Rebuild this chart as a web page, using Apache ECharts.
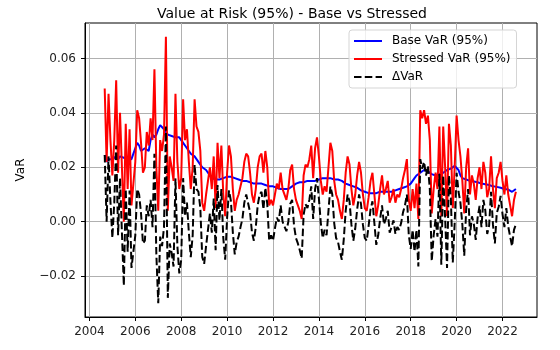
<!DOCTYPE html>
<html>
    <head>
        <meta charset="utf-8">
        <script src="https://cdn.jsdelivr.net/npm/echarts@6/dist/echarts.min.js"></script>
        <style>
            html, body { margin: 0; padding: 0; background: #fff; }
            #main { width: 560px; height: 350px; }
        </style>
    </head>
    <body>
        <div id="main"></div>
        <script>
            // monthly observations, first one is Sep 2004
            var startYear = 2004;
            var startMonth = 9;

            var baseVar = [
                0.0245, 0.022, 0.023, 0.0225, 0.023, 0.023, 0.024, 0.023, 0.024, 0.024, 0.0235, 0.024,
                0.023, 0.0225, 0.023, 0.025, 0.027, 0.029, 0.028, 0.026, 0.026, 0.027, 0.027, 0.026,
                0.030, 0.032, 0.031, 0.032, 0.034, 0.0355, 0.035, 0.034, 0.033, 0.032, 0.032, 0.0315,
                0.0315, 0.031, 0.031, 0.031, 0.030, 0.029, 0.028, 0.027, 0.026, 0.025, 0.025, 0.024,
                0.023, 0.022, 0.021, 0.020, 0.0195, 0.019, 0.018, 0.017, 0.016, 0.0155, 0.0155, 0.0155,
                0.0155, 0.016, 0.016, 0.016, 0.0165, 0.0165, 0.0165, 0.016, 0.016, 0.0155, 0.0155, 0.015,
                0.015, 0.015, 0.015, 0.0145, 0.0145, 0.014, 0.014, 0.014, 0.014, 0.014, 0.014, 0.0135,
                0.0135, 0.0135, 0.013, 0.013, 0.013, 0.0125, 0.0125, 0.012, 0.012, 0.012, 0.012, 0.0115,
                0.012, 0.0125, 0.013, 0.0135, 0.014, 0.014, 0.0145, 0.0145, 0.0145, 0.0145, 0.015, 0.015,
                0.015, 0.015, 0.015, 0.015, 0.0155, 0.0155, 0.016, 0.016, 0.016, 0.016, 0.016, 0.016,
                0.0155, 0.016, 0.0155, 0.015, 0.015, 0.0145, 0.014, 0.014, 0.0135, 0.013, 0.013, 0.0125,
                0.0125, 0.012, 0.0115, 0.011, 0.011, 0.011, 0.0105, 0.0105, 0.0105, 0.0105, 0.0105, 0.011,
                0.011, 0.011, 0.011, 0.011, 0.011, 0.011, 0.011, 0.0115, 0.0115, 0.012, 0.012, 0.0125,
                0.0125, 0.013, 0.013, 0.013, 0.014, 0.015, 0.016, 0.017, 0.0175, 0.018, 0.0185, 0.019,
                0.019, 0.0185, 0.018, 0.0175, 0.017, 0.017, 0.0175, 0.0175, 0.0178, 0.018, 0.0185, 0.019,
                0.019, 0.0195, 0.020, 0.0205, 0.021, 0.019, 0.017, 0.016, 0.0155, 0.0155, 0.015, 0.015,
                0.015, 0.0148, 0.0147, 0.0145, 0.0142, 0.014, 0.014, 0.0138, 0.0135, 0.0135, 0.013, 0.013,
                0.013, 0.0128, 0.0125, 0.0125, 0.0122, 0.012, 0.012, 0.0118, 0.0115, 0.011, 0.011, 0.012
            ];

            var stressedVar = [
                0.049, 0.022, 0.047, 0.030, 0.017, 0.030, 0.052, 0.018, 0.040, 0.020, 0.000, 0.036,
                0.012, 0.034, 0.006, 0.014, 0.022, 0.041, 0.038, 0.029, 0.018, 0.020, 0.033, 0.028,
                0.038, 0.030, 0.056, 0.020, 0.004, 0.030, 0.026, 0.032, 0.068, 0.004, 0.024, 0.020,
                0.015, 0.047, 0.022, 0.012, 0.016, 0.045, 0.030, 0.034, 0.022, 0.012, 0.020, 0.045,
                0.035, 0.033, 0.026, 0.007, 0.004, 0.010, 0.015, 0.020, 0.012, 0.024, 0.005, 0.029,
                0.016, 0.028, 0.010, 0.002, 0.018, 0.028, 0.024, 0.012, 0.004, 0.008, 0.010, 0.013,
                0.016, 0.022, 0.025, 0.024, 0.018, 0.010, 0.007, 0.012, 0.020, 0.024, 0.025, 0.018,
                0.026, 0.020, 0.006, 0.008, 0.006, 0.010, 0.014, 0.012, 0.018, 0.012, 0.012, 0.008,
                0.012, 0.019, 0.021, 0.012, 0.008, 0.006, 0.004, 0.001, 0.017, 0.021, 0.020, 0.023,
                0.028, 0.016, 0.027, 0.031, 0.024, 0.015, 0.010, 0.013, 0.011, 0.020, 0.029, 0.026,
                0.015, 0.010, 0.008, 0.004, 0.001, 0.008, 0.018, 0.024, 0.021, 0.012, 0.006, 0.010,
                0.017, 0.022, 0.018, 0.010, 0.005, 0.004, 0.009, 0.015, 0.018, 0.010, 0.002, 0.006,
                0.012, 0.017, 0.010, 0.012, 0.015, 0.007, 0.009, 0.012, 0.007, 0.010, 0.009, 0.012,
                0.016, 0.019, 0.023, 0.008, 0.004, 0.012, 0.005, 0.014, 0.001, 0.041, 0.038, 0.041,
                0.036, 0.039, 0.030, 0.003, 0.012, 0.018, 0.012, 0.035, 0.002, 0.035, 0.020, 0.002,
                0.036, 0.028, 0.005, 0.020, 0.039, 0.030, 0.024, 0.015, 0.003, 0.020, 0.027, 0.010,
                0.017, 0.014, 0.008, 0.016, 0.020, 0.012, 0.022, 0.018, 0.009, 0.012, 0.024, 0.012,
                0.005, 0.016, 0.018, 0.022, 0.015, 0.010, 0.017, 0.010, 0.006, 0.002, 0.008, 0.011
            ];

            var deltaVar = [
                0.0245, 0.000, 0.024, 0.0075, -0.006, 0.007, 0.028, -0.005, 0.016, -0.004, -0.0235, 0.012,
                -0.011, 0.0115, -0.017, -0.011, -0.005, 0.012, 0.010, 0.003, -0.008, -0.007, 0.006, 0.002,
                0.008, -0.002, 0.025, -0.012, -0.030, -0.0055, -0.009, -0.002, 0.035, -0.028, -0.008, -0.0115,
                -0.0165, 0.016, -0.009, -0.019, -0.014, 0.016, 0.002, 0.007, -0.004, -0.013, -0.005, 0.021,
                0.012, 0.011, 0.005, -0.013, -0.0155, -0.009, -0.003, 0.003, -0.004, 0.0085, -0.0105, 0.0135,
                0.0005, 0.012, -0.006, -0.014, 0.0015, 0.0115, 0.0075, -0.004, -0.012, -0.0075, -0.0055, -0.002,
                0.001, 0.007, 0.010, 0.0095, 0.0035, -0.004, -0.007, -0.002, 0.006, 0.010, 0.011, 0.0045,
                0.0125, 0.0065, -0.007, -0.005, -0.007, -0.0025, 0.0015, 0.000, 0.006, 0.000, 0.000, -0.0035,
                0.000, 0.0065, 0.008, -0.0015, -0.006, -0.008, -0.0105, -0.0135, 0.0025, 0.0065, 0.005, 0.008,
                0.013, 0.001, 0.012, 0.016, 0.0085, -0.0005, -0.006, -0.003, -0.005, 0.004, 0.013, 0.010,
                -0.0005, -0.006, -0.0075, -0.011, -0.014, -0.0065, 0.004, 0.010, 0.0075, -0.001, -0.007, -0.0025,
                0.0045, 0.010, 0.0065, -0.001, -0.006, -0.007, -0.0015, 0.0045, 0.0075, -0.0005, -0.0085, -0.005,
                0.001, 0.006, -0.001, 0.001, 0.004, -0.004, -0.002, 0.0005, -0.0045, -0.002, -0.003, -0.0005,
                0.0035, 0.006, 0.010, -0.005, -0.010, -0.003, -0.011, -0.003, -0.0165, 0.023, 0.0195, 0.022,
                0.017, 0.0205, 0.012, -0.0145, -0.005, 0.001, -0.0055, 0.0175, -0.0158, 0.017, 0.0015, -0.017,
                0.017, 0.0085, -0.015, -0.0005, 0.018, 0.011, 0.007, -0.001, -0.0125, 0.0045, 0.012, -0.005,
                0.002, -0.0008, -0.0067, 0.0015, 0.0058, -0.002, 0.008, 0.0042, -0.0045, -0.0015, 0.011, -0.001,
                -0.008, 0.0032, 0.0055, 0.0095, 0.0028, -0.002, 0.005, -0.0018, -0.0055, -0.009, -0.003, -0.001
            ];

            var yearTicks = [2004, 2006, 2008, 2010, 2012, 2014, 2016, 2018, 2020, 2022];
            var varTicks = [-0.02, 0, 0.02, 0.04, 0.06];

            // month position as a fractional year
            var dates = baseVar.map(function (v, i) {
                return startYear + (startMonth - 1 + i) / 12;
            });
            function pairs(values) {
                return values.map(function (v, i) {
                    return [dates[i], v];
                });
            }

            var font = 'DejaVu Sans';
            var chart = echarts.init(document.getElementById('main'), null, {renderer: 'canvas'});

            chart.setOption({
                animation: false,
                backgroundColor: '#fff',
                textStyle: {fontFamily: font},
                title: {
                    text: 'Value at Risk (95%) - Base vs Stressed',
                    left: 152,
                    top: 2,
                    textStyle: {fontFamily: font, fontSize: 14, fontWeight: 'normal', color: '#000'}
                },
                legend: {
                    orient: 'vertical',
                    left: 349,
                    top: 30,
                    padding: [5, 6, 5, 4],
                    itemWidth: 28,
                    itemHeight: 14,
                    itemGap: 6,
                    borderColor: '#d5d5d5',
                    borderWidth: 1,
                    borderRadius: 3,
                    backgroundColor: 'rgba(255,255,255,0.8)',
                    itemStyle: {opacity: 0},
                    textStyle: {fontFamily: font, fontSize: 12, color: '#000', padding: [0, 0, 0, 5]},
                    data: ['Base VaR (95%)', 'Stressed VaR (95%)', '\u0394VaR']
                },
                grid: {
                    left: 85,
                    right: 23,
                    top: 23,
                    bottom: 33,
                    show: true,
                    borderColor: '#000',
                    borderWidth: 1,
                    outerBoundsMode: 'none'
                },
                xAxis: {
                    type: 'value',
                    min: 2003.808,
                    max: 2023.503,
                    axisLine: {show: true, onZero: false, lineStyle: {color: '#000'}},
                    axisTick: {show: true, length: 4, customValues: yearTicks, lineStyle: {color: '#000'}},
                    axisLabel: {
                        customValues: yearTicks,
                        margin: 9,
                        fontFamily: font,
                        fontSize: 12,
                        color: '#222',
                        formatter: function (v) { return String(Math.round(v)); }
                    },
                    splitLine: {show: true, lineStyle: {color: '#b0b0b0', width: 1}}
                },
                yAxis: {
                    type: 'value',
                    min: -0.03504,
                    max: 0.07305,
                    name: 'VaR',
                    nameLocation: 'middle',
                    nameGap: 58,
                    nameTextStyle: {fontFamily: font, fontSize: 12, color: '#000'},
                    axisLine: {show: true, onZero: false, lineStyle: {color: '#000'}},
                    axisTick: {show: true, length: 4, customValues: varTicks, lineStyle: {color: '#000'}},
                    axisLabel: {
                        customValues: varTicks,
                        margin: 9,
                        fontFamily: font,
                        fontSize: 12,
                        color: '#222',
                        formatter: function (v) {
                            return (v < 0 ? '\u2212' : '') + Math.abs(v).toFixed(2);
                        }
                    },
                    splitLine: {show: true, lineStyle: {color: '#b0b0b0', width: 1}}
                },
                series: [
                    {
                        name: 'Base VaR (95%)',
                        type: 'line',
                        symbol: 'none',
                        data: pairs(baseVar),
                        lineStyle: {color: '#0000ff', width: 2},
                        itemStyle: {color: '#0000ff'}
                    },
                    {
                        name: 'Stressed VaR (95%)',
                        type: 'line',
                        symbol: 'none',
                        data: pairs(stressedVar),
                        lineStyle: {color: '#ff0000', width: 2},
                        itemStyle: {color: '#ff0000'}
                    },
                    {
                        name: '\u0394VaR',
                        type: 'line',
                        symbol: 'none',
                        data: pairs(deltaVar),
                        lineStyle: {color: '#000', width: 2, type: [7.5, 3.3]},
                        itemStyle: {color: '#000'}
                    }
                ]
            });
        </script>
    </body>
</html>
